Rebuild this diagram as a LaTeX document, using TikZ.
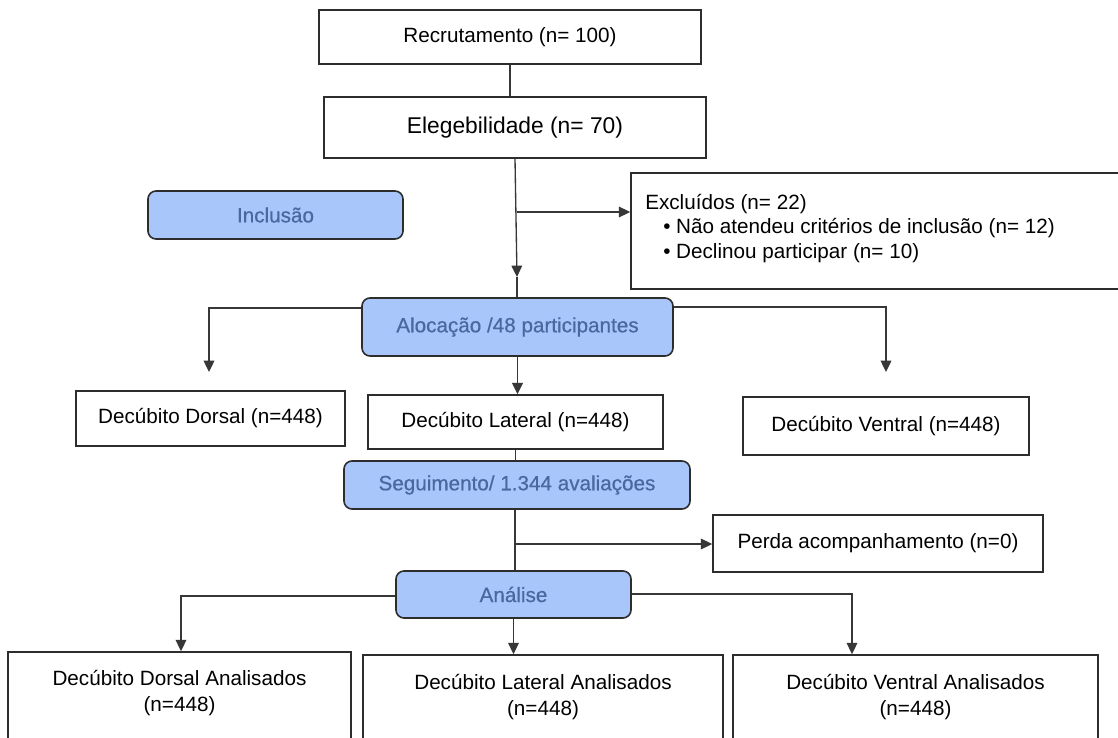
\documentclass[tikz,border=0pt]{standalone}
\usepackage{fontspec}
\setmainfont{Liberation Sans}
\newfontfamily\bluefont[FakeBold=0.5]{Liberation Sans}
\usetikzlibrary{arrows.meta}
\definecolor{bord}{RGB}{45,45,45}
\definecolor{bluefill}{RGB}{168,198,250}
\definecolor{bluetext}{RGB}{72,104,158}
\definecolor{lin}{RGB}{55,55,55}
\begin{document}
\begin{tikzpicture}[x=0.75pt,y=-0.75pt,
  box/.style 2 args={draw=bord, line width=1.2pt, fill=white, inner sep=0pt, text=black,
    font=\fontsize{15.5}{19.5}\selectfont, minimum width={#1*0.75pt}, minimum height={#2*0.75pt}},
  bluebox/.style 2 args={draw=bord, line width=1.2pt, fill=bluefill, rounded corners=6pt, inner sep=0pt,
    text=bluetext, font=\bluefont\fontsize{15.5}{19.5}\selectfont, minimum width={#1*0.75pt}, minimum height={#2*0.75pt}},
  txt/.style={inner sep=0pt, text=black, font=\fontsize{15.5}{19.5}\selectfont},
  conn/.style={draw=lin, line width=1pt},
  arr/.style={conn, -{Triangle[length=8.5pt,width=8pt]}}
]
\useasboundingbox (0,0) rectangle (1118,738);
\fill[white] (0,0) rectangle (1118,738);

% boxes
\node[box={382}{54}] (rec) at (510,37) {Recrutamento (n= 100)};
\node[box={382}{61}, font=\fontsize{17.1}{20}\selectfont] (ele) at (515,127.5) {Elegebilidade (n= 70)};
\node[bluebox={255}{48}] (inc) at (275.5,215) {Inclusão};
\node[box={504}{116}] (exc) at (883,231) {};
\node[bluebox={311}{58}] (alo) at (517.5,327) {Alocação /48 participantes};
\node[box={269}{55}] (dor) at (210.5,418.5) {Decúbito Dorsal (n=448)};
\node[box={295}{54}] (lat) at (515.5,422) {Decúbito Lateral (n=448)};
\node[box={286}{58}] (ven) at (886,426) {Decúbito Ventral (n=448)};
\node[bluebox={346}{48}] (seg) at (517,485) {Seguimento/ 1.344 avaliações};
\node[box={330}{57}] (per) at (878,543.5) {Perda acompanhamento (n=0)};
\node[bluebox={235}{47}] (ana) at (513.5,594.5) {Análise};
\node[box={343}{118}] (bl) at (179.5,711) {};
\node[box={360}{115}] (bm) at (543,712.5) {};
\node[box={365}{115}] (br) at (915.5,712.5) {};

% texts of the excluded box
\node[txt, anchor=west] (ex1) at (645,204) {Excluídos (n= 22)};
\node[txt, anchor=west] (ex2) at (663,228) {\textbullet\ Não atendeu critérios de inclusão (n= 12)};
\node[txt, anchor=west] (ex3) at (663,253) {\textbullet\ Declinou participar (n= 10)};

% texts of the bottom boxes
\node[txt, align=center, anchor=north] (blt) at (179.5,670) {Decúbito Dorsal Analisados\\(n=448)};
\node[txt, align=center, anchor=north] (bmt) at (543,674) {Decúbito Lateral Analisados\\(n=448)};
\node[txt, align=center, anchor=north] (brt) at (915.5,674) {Decúbito Ventral Analisados\\(n=448)};

% connectors
\coordinate (a1) at (517,277);
\coordinate (b1) at (517,212);
\coordinate (dtip) at (209,372);
\coordinate (vtip) at (886,372);
\coordinate (p1) at (515,544);
\coordinate (ltip) at (181,0);
\coordinate (rtip) at (852,0);

\draw[conn] (rec.south) -- (rec.south |- ele.north);
\draw[arr] (ele.south) -- (a1);
\draw[conn] (a1) -- (a1 |- alo.north);
\draw[arr] (b1) -- (b1 -| exc.west);
\draw[arr] (alo.west |- 0,308) -| (dtip);
\draw[arr] (alo.east |- 0,307) -| (vtip);
\draw[arr, line width=1.3pt] (alo.south) -- (alo.south |- lat.north);
\draw[conn] (lat.south) -- (lat.south |- seg.north);
\draw[conn] (seg.south -| p1) -- (p1 |- ana.north);
\draw[arr] (p1) -- (p1 -| per.west);
\draw[arr] (ana.west |- 0,596) -| (bl.north -| ltip);
\draw[arr] (ana.east |- 0,594) -| (br.north -| rtip);
\draw[arr] (ana.south) -- (ana.south |- bm.north);
\end{tikzpicture}
\end{document}
